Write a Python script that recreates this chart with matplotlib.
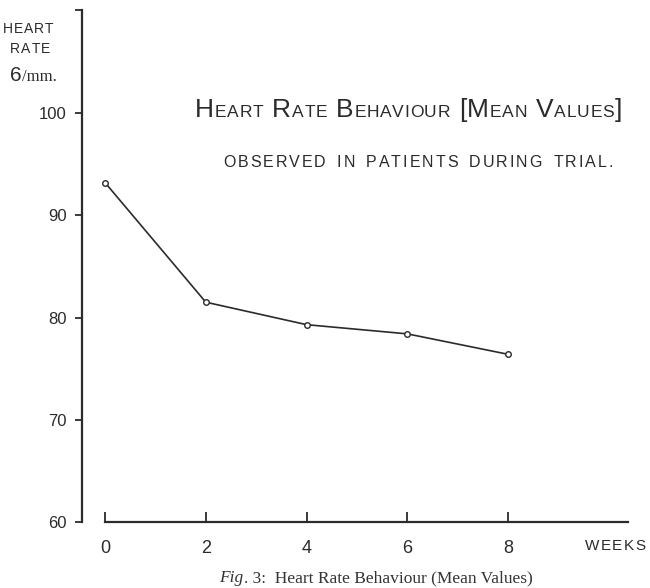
import matplotlib
matplotlib.use("Agg")
import matplotlib.pyplot as plt

weeks = [0, 2, 4, 6, 8]
heart_rate = [93.2, 81.5, 79.3, 78.4, 76.4]
y_ticks = [60, 70, 80, 90, 100]
x_ticks = [0, 2, 4, 6, 8]

W, H = 650, 588
INK = "#2b2b2b"
FONT = ["Liberation Sans", "DejaVu Sans"]
SERIF = ["Liberation Serif", "DejaVu Serif"]

fig = plt.figure(figsize=(W / 100, H / 100), dpi=100)
fig.patch.set_facecolor("white")

x_left_px, x_right_px = 82, 628
y_bot_px, y_top_px = 522, 10
ax = fig.add_axes([x_left_px / W, 1 - y_bot_px / H,
                   (x_right_px - x_left_px) / W, (y_bot_px - y_top_px) / H])
px_per_week = 50.4
xmin = -(105 - x_left_px) / px_per_week
xmax = (x_right_px - 105) / px_per_week
ymax = 100 + (113 - y_top_px) / 10.22
ax.set_xlim(xmin, xmax)
ax.set_ylim(60, ymax)
ax.set_facecolor("none")

ax.plot(weeks, heart_rate, color=INK, lw=1.2, marker="o", ms=4,
        mfc="white", mec=INK, mew=1.0, zorder=3)

for s in ["top", "right"]:
    ax.spines[s].set_visible(False)
ax.spines["left"].set_bounds(60, ymax)
ax.spines["bottom"].set_bounds(0, xmax)
for s in ["left", "bottom"]:
    ax.spines[s].set_color(INK)
    ax.spines[s].set_linewidth(1.6)

ax.set_yticks(y_ticks)
ax.set_yticklabels([str(v) for v in y_ticks])
ax.set_yticks([ymax], minor=True)
ax.tick_params(axis="y", which="both", direction="out", length=5, width=1.3,
               color=INK, labelcolor=INK, labelsize=12, pad=6)
ax.set_xticks(x_ticks)
ax.set_xticklabels([str(v) for v in x_ticks])
ax.tick_params(axis="x", direction="in", length=7, width=1.3, color=INK,
               labelcolor=INK, labelsize=13, pad=13)
for lab in ax.get_xticklabels() + ax.get_yticklabels():
    lab.set_fontfamily(FONT)

renderer = fig.canvas.get_renderer()


def spaced(pieces, x0, x1, baseline, weight="normal"):
    """Draw characters left-to-right with tracking so they span x0..x1 px."""
    widths = []
    objs = []
    for ch, size in pieces:
        if ch == " ":
            widths.append(size * 100 / 72 * 0.45)
            objs.append(None)
            continue
        t = fig.text(0, 0, ch, fontsize=size, family=FONT, color=INK,
                     va="baseline", ha="left", weight=weight)
        bb = t.get_window_extent(renderer)
        widths.append(bb.width)
        objs.append(t)
    n = len(pieces)
    gap = (x1 - x0 - sum(widths)) / max(n - 1, 1)
    x = x0
    for w, t in zip(widths, objs):
        if t is not None:
            t.set_position((x / W, 1 - baseline / H))
        x += w + gap


def smallcaps(text, big, small):
    out = []
    prev = " "
    for ch in text:
        if ch in "[]" or (prev in " [" and ch != " "):
            out.append((ch, big))
        else:
            out.append((ch, small))
        prev = ch
    return out


spaced(smallcaps("HEART RATE BEHAVIOUR [MEAN VALUES]", 19, 12.5), 195, 622, 117)
spaced([(c, 11.5) for c in "OBSERVED IN PATIENTS DURING TRIAL."], 223, 613, 167)

spaced([(c, 10) for c in "HEART"], 3, 53, 33)
spaced([(c, 10) for c in "RATE"], 10, 50, 53)
t6 = fig.text(10 / W, 1 - 81 / H, "6", fontsize=15, family=FONT, color=INK,
              va="baseline", ha="left")
w6 = t6.get_window_extent(renderer).width
fig.text((10 + w6) / W, 1 - 81 / H, "/mm.", fontsize=12, family=SERIF,
         color=INK, va="baseline", ha="left")

spaced([(c, 11) for c in "WEEKS"], 585, 645, 550)

# caption: italic "Fig" + regular rest, centred on x=376
cap_size = 12.5
c1 = fig.text(0, 0, "Fig", fontsize=cap_size, family=SERIF, style="italic",
              color="#333333", va="baseline", ha="left")
c2 = fig.text(0, 0, ". 3:  Heart Rate Behaviour (Mean Values)",
              fontsize=cap_size, family=SERIF, color="#333333",
              va="baseline", ha="left")
w1 = c1.get_window_extent(renderer).width
w2 = c2.get_window_extent(renderer).width
start = 376 - (w1 + w2) / 2
c1.set_position((start / W, 1 - 582 / H))
c2.set_position(((start + w1) / W, 1 - 582 / H))

fig.savefig("out.png", dpi=100, facecolor="white")
